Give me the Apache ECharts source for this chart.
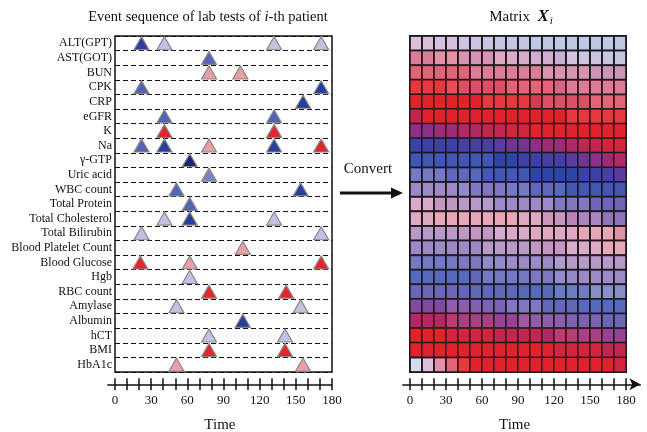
<!DOCTYPE html>
<html>
<head>
<meta charset="utf-8">
<script src="https://cdn.jsdelivr.net/npm/echarts@6/dist/echarts.min.js"></script>
<style>
  html, body { margin: 0; padding: 0; background: #fff; }
  #main { width: 647px; height: 432px; }
</style>
</head>
<body>
<div id="main"></div>
<script>
// lab tests (rows, top to bottom)
var labTests = ['ALT(GPT)', 'AST(GOT)', 'BUN', 'CPK', 'CRP', 'eGFR', 'K', 'Na', 'γ-GTP', 'Uric acid',
    'WBC count', 'Total Protein', 'Total Cholesterol', 'Total Bilirubin', 'Blood Platelet Count',
    'Blood Glucose', 'Hgb', 'RBC count', 'Amylase', 'Albumin', 'hCT', 'BMI', 'HbA1c'];

// event times per test
var eventTimes = [
    [22, 41, 132, 171], [78], [78, 104], [22, 171], [156], [41, 132], [41, 132],
    [22, 41, 78, 132, 171], [62], [78], [51, 154], [62], [41, 62, 132], [22, 171],
    [106], [21, 62, 171], [62], [78, 142], [51, 154], [106], [78, 141], [78, 141], [51, 156]
];
// event levels (-3 low .. 3 high), same shape as eventTimes
var eventLevels = [
    [-2.2, -0.2, -0.2, -0.2], [-1.5], [1, 1], [-1.5, -2.2], [-2.2], [-1.5, -1.5], [2.5, 2.5],
    [-1.5, -2.2, 1, -2.2, 2.5], [-3], [-1], [-1.5, -2.2], [-1.5], [-0.2, -2.2, -0.2], [-0.2, -0.2],
    [1], [2.5, 1, 2.5], [-0.2], [2.5, 2.5], [-0.2, -0.2], [-2.2], [-0.2, -0.2], [2.5, 2.5], [1, 1]
];

// matrix columns (time steps) and tick labels
var matrixCols = ['0', '10', '20', '30', '40', '50', '60', '70', '80', '90', '100', '110', '120', '130', '140', '150', '160', '170'];
var timeTicks = [0, 10, 20, 30, 40, 50, 60, 70, 80, 90, 100, 110, 120, 130, 140, 150, 160, 170, 180];
var timeLabels = [0, 30, 60, 90, 120, 150, 180];

// matrix hue (0 blue .. 10 red), one row per lab test
var matrixHue = [
    [5, 5, 4, 4, 3, 3, 2, 2, 1, 1, 0, 0, 0, 0, 0, 0, 0, 0],
    [8, 8, 8, 8, 7, 7, 7, 7, 6, 6, 5, 5, 4, 4, 3, 3, 2, 2],
    [9, 9, 9, 9, 9, 8, 8, 8, 8, 8, 8, 7, 7, 7, 7, 6, 6, 6],
    [10, 10, 10, 10, 9, 9, 9, 9, 9, 9, 9, 9, 8, 8, 8, 8, 8, 8],
    [10, 10, 10, 10, 10, 10, 10, 10, 10, 10, 9, 9, 9, 9, 9, 9, 9, 9],
    [8, 10, 10, 10, 10, 10, 10, 10, 10, 10, 10, 10, 10, 10, 10, 10, 10, 10],
    [5, 5, 6, 6, 7, 7, 8, 8, 9, 9, 10, 10, 10, 10, 10, 10, 10, 10],
    [1, 1, 1, 1, 2, 2, 2, 3, 4, 4, 5, 6, 6, 7, 8, 8, 9, 9],
    [0, 0, 0, 0, 0, 0, 0, 0, 0, 1, 1, 2, 2, 3, 4, 5, 6, 7],
    [1, 1, 1, 1, 1, 0, 0, 0, 0, 0, 0, 0, 0, 0, 1, 1, 2, 3],
    [3, 3, 3, 3, 2, 2, 2, 2, 1, 1, 1, 1, 0, 0, 0, 0, 0, 0],
    [6, 6, 5, 5, 4, 4, 4, 3, 3, 3, 3, 3, 2, 2, 2, 2, 2, 2],
    [7, 7, 8, 8, 8, 8, 8, 8, 8, 7, 7, 6, 5, 5, 4, 4, 3, 3],
    [4, 4, 4, 4, 5, 5, 5, 5, 6, 6, 7, 7, 7, 7, 8, 8, 8, 8],
    [3, 3, 3, 3, 3, 3, 4, 4, 4, 4, 5, 5, 5, 6, 6, 7, 8, 8],
    [1, 1, 1, 1, 2, 2, 2, 2, 3, 3, 3, 3, 3, 4, 4, 4, 4, 4],
    [0, 0, 0, 0, 0, 1, 1, 1, 1, 1, 2, 2, 2, 2, 3, 3, 3, 3],
    [2, 2, 2, 2, 1, 1, 1, 1, 1, 0, 0, 0, 0, 0, 1, 1, 1, 1],
    [4, 4, 4, 4, 4, 3, 3, 3, 2, 2, 2, 1, 1, 1, 0, 0, 0, 0],
    [7, 7, 7, 7, 6, 6, 6, 5, 5, 5, 4, 4, 4, 3, 3, 3, 2, 2],
    [10, 10, 10, 9, 9, 9, 9, 8, 8, 8, 8, 7, 7, 7, 6, 6, 5, 5],
    [10, 10, 10, 10, 10, 10, 10, 10, 10, 10, 10, 10, 9, 9, 9, 9, 8, 8],
    [0, 5, 8, 9, 10, 10, 10, 10, 10, 10, 10, 10, 10, 10, 10, 10, 10, 9]
];
// matrix strength (0 faint .. 10 full)
var matrixStrength = [
    [3, 3, 3, 3, 3, 3, 3, 3, 3, 3, 3, 3, 3, 3, 3, 3, 3, 3],
    [6, 6, 5, 5, 5, 5, 5, 4, 4, 4, 4, 4, 4, 3, 3, 3, 3, 3],
    [7, 7, 7, 7, 7, 6, 6, 6, 6, 6, 6, 5, 5, 5, 5, 5, 5, 5],
    [9, 9, 9, 8, 8, 8, 8, 8, 7, 7, 7, 7, 7, 6, 6, 6, 6, 6],
    [10, 10, 10, 10, 10, 10, 9, 9, 9, 9, 9, 8, 8, 8, 8, 7, 7, 7],
    [10, 10, 10, 10, 10, 10, 10, 10, 10, 10, 10, 10, 10, 9, 9, 9, 9, 9],
    [10, 10, 10, 10, 10, 10, 10, 10, 10, 10, 10, 10, 10, 10, 10, 10, 10, 10],
    [10, 10, 10, 10, 10, 10, 10, 10, 10, 10, 10, 10, 10, 10, 10, 10, 10, 10],
    [9, 9, 9, 9, 9, 9, 9, 10, 10, 10, 10, 10, 10, 10, 10, 10, 10, 10],
    [7, 7, 7, 8, 8, 8, 9, 9, 9, 9, 10, 10, 10, 10, 10, 10, 10, 10],
    [6, 6, 6, 6, 6, 7, 7, 7, 7, 7, 8, 8, 8, 9, 9, 9, 9, 9],
    [4, 4, 5, 5, 5, 5, 5, 6, 6, 6, 6, 6, 7, 7, 7, 8, 8, 8],
    [4, 4, 4, 4, 4, 4, 4, 4, 4, 4, 4, 5, 5, 6, 6, 6, 7, 7],
    [5, 5, 5, 5, 5, 5, 5, 4, 4, 4, 4, 4, 4, 4, 4, 4, 4, 5],
    [6, 6, 6, 6, 6, 6, 5, 5, 5, 5, 5, 5, 5, 4, 4, 4, 4, 4],
    [7, 7, 7, 7, 7, 7, 6, 6, 6, 6, 6, 6, 5, 5, 5, 5, 5, 5],
    [8, 8, 8, 8, 8, 8, 7, 7, 7, 7, 7, 7, 6, 6, 6, 6, 6, 6],
    [8, 8, 8, 8, 8, 8, 8, 8, 8, 8, 8, 8, 7, 7, 7, 6, 6, 6],
    [9, 9, 9, 8, 8, 8, 8, 8, 7, 7, 7, 8, 8, 8, 8, 8, 8, 8],
    [10, 10, 10, 9, 9, 9, 9, 9, 9, 8, 8, 8, 8, 8, 8, 8, 8, 8],
    [10, 10, 10, 10, 10, 10, 10, 10, 10, 10, 10, 10, 9, 9, 9, 9, 9, 9],
    [10, 10, 10, 10, 10, 10, 10, 10, 10, 10, 10, 10, 10, 10, 10, 10, 10, 10],
    [2, 3, 5, 7, 9, 10, 10, 10, 10, 10, 10, 10, 10, 10, 10, 10, 10, 10]
];

var serif = 'Liberation Serif';
var ink = '#111';

// scatter points: [time, row, level]
var eventData = [];
eventTimes.forEach(function (times, row) {
    times.forEach(function (t, k) {
        eventData.push([t, row, eventLevels[row][k]]);
    });
});
// heatmap cells: [col, row, hue, strength]
var matrixData = [];
matrixHue.forEach(function (hues, row) {
    hues.forEach(function (h, col) {
        matrixData.push([col, row, h, matrixStrength[row][col]]);
    });
});

// time axis (line + outer ticks + labels)
function timeAxis(gridIndex, max, withArrow) {
    return {
        gridIndex: gridIndex, type: 'value', position: 'bottom', min: -6, max: max,
        splitLine: { show: false },
        axisLine: {
            show: true, onZero: false,
            symbol: withArrow ? ['none', 'arrow'] : ['none', 'none'], symbolSize: [9, 11],
            lineStyle: { color: ink, width: 1.5 }
        },
        axisTick: { show: true, customValues: timeTicks, length: 6, lineStyle: { color: ink, width: 1.5 } },
        axisLabel: { customValues: timeLabels, margin: 10, fontFamily: serif, fontSize: 13, color: ink },
        name: 'Time', nameLocation: 'middle', nameGap: 33,
        nameTextStyle: { fontFamily: serif, fontSize: 15, color: ink, padding: withArrow ? [0, 14, 0, 0] : 0 }
    };
}
// second axis on the same line, inner half of the cross ticks
function innerTicks(gridIndex, max) {
    return {
        gridIndex: gridIndex, type: 'value', position: 'bottom', min: -6, max: max,
        splitLine: { show: false }, axisLine: { show: false, onZero: false },
        axisTick: { show: true, inside: true, customValues: timeTicks, length: 6, lineStyle: { color: ink, width: 1.5 } },
        axisLabel: { show: false }
    };
}

var myChart = echarts.init(document.getElementById('main'));
var option = {
    animation: false,
    grid: [
        { left: 115, top: 36, width: 217, height: 336, show: true, borderColor: ink, borderWidth: 1.5 },
        { left: 410, top: 36, width: 216, height: 336, show: true, borderColor: ink, borderWidth: 1.5 },
        { left: 107.8, top: 384, width: 224.2, height: 1 },
        { left: 402.8, top: 384, width: 237.6, height: 1 }
    ],
    xAxis: [
        { gridIndex: 0, type: 'value', min: 0, max: 180, show: false },
        { gridIndex: 1, type: 'category', data: matrixCols, show: false },
        timeAxis(2, 180, false),
        innerTicks(2, 180),
        timeAxis(3, 192, true),
        innerTicks(3, 192)
    ],
    yAxis: [
        {
            gridIndex: 0, type: 'category', data: labTests, inverse: true,
            axisLine: { show: false }, axisTick: { show: false },
            axisLabel: { interval: 0, margin: 3, fontFamily: serif, fontSize: 12, color: ink },
            splitLine: { show: true, interval: 0, lineStyle: { type: [5, 3], color: ink, width: 1.2 } }
        },
        { gridIndex: 1, type: 'category', data: labTests, inverse: true, show: false },
        { gridIndex: 2, type: 'value', show: false },
        { gridIndex: 3, type: 'value', show: false }
    ],
    visualMap: [
        {
            type: 'continuous', show: false, seriesIndex: 0, dimension: 2, min: -3, max: 3,
            inRange: { color: ['#1a2870', '#2c44a4', '#7a84c4', '#d0d2ea', '#eaa0a2', '#e42a30', '#e21f27'] }
        },
        {
            type: 'continuous', show: false, seriesIndex: 1, dimension: 2, min: 0, max: 10,
            inRange: { color: ['#2d45a5', '#4f3ea2', '#8a3088', '#b9275a', '#e2222a'] }
        },
        {
            type: 'continuous', show: false, seriesIndex: 1, dimension: 3, min: 0, max: 10,
            inRange: { colorAlpha: [0, 1] }
        }
    ],
    series: [
        {
            type: 'scatter', xAxisIndex: 0, yAxisIndex: 0,
            symbol: 'triangle', symbolSize: [15, 13],
            itemStyle: { borderColor: '#8a8a8a', borderWidth: 1.2, opacity: 1 },
            data: eventData
        },
        {
            type: 'heatmap', xAxisIndex: 1, yAxisIndex: 1,
            itemStyle: { borderColor: '#1a1a1a', borderWidth: 1.5 },
            data: matrixData
        }
    ],
    graphic: [
        {
            type: 'text', x: 208, y: 17,
            style: {
                text: 'Event sequence of lab tests of {it|i}-th patient',
                align: 'center', verticalAlign: 'middle',
                fontFamily: serif, fontSize: 14.5, fill: ink,
                rich: { it: { fontFamily: serif, fontSize: 14.5, fontStyle: 'italic', fill: ink } }
            }
        },
        {
            type: 'text', x: 521, y: 17,
            style: {
                text: 'Matrix  {x|X}{sub|i}',
                align: 'center', verticalAlign: 'middle',
                fontFamily: serif, fontSize: 15, fill: ink,
                rich: {
                    x: { fontFamily: serif, fontSize: 17, fontStyle: 'italic', fontWeight: 'bold', fill: ink },
                    sub: { fontFamily: serif, fontSize: 11, fontStyle: 'italic', fill: ink, padding: [8, 0, 0, 1] }
                }
            }
        },
        {
            type: 'text', x: 368, y: 169,
            style: { text: 'Convert', align: 'center', verticalAlign: 'middle', fontFamily: serif, fontSize: 15, fill: ink }
        },
        {
            type: 'line', shape: { x1: 340, y1: 193, x2: 394, y2: 193 },
            style: { stroke: ink, lineWidth: 3 }
        },
        {
            type: 'polygon', shape: { points: [[391, 187.5], [403, 193], [391, 198.5]] },
            style: { fill: ink }
        }
    ]
};
myChart.setOption(option);
</script>
</body>
</html>
